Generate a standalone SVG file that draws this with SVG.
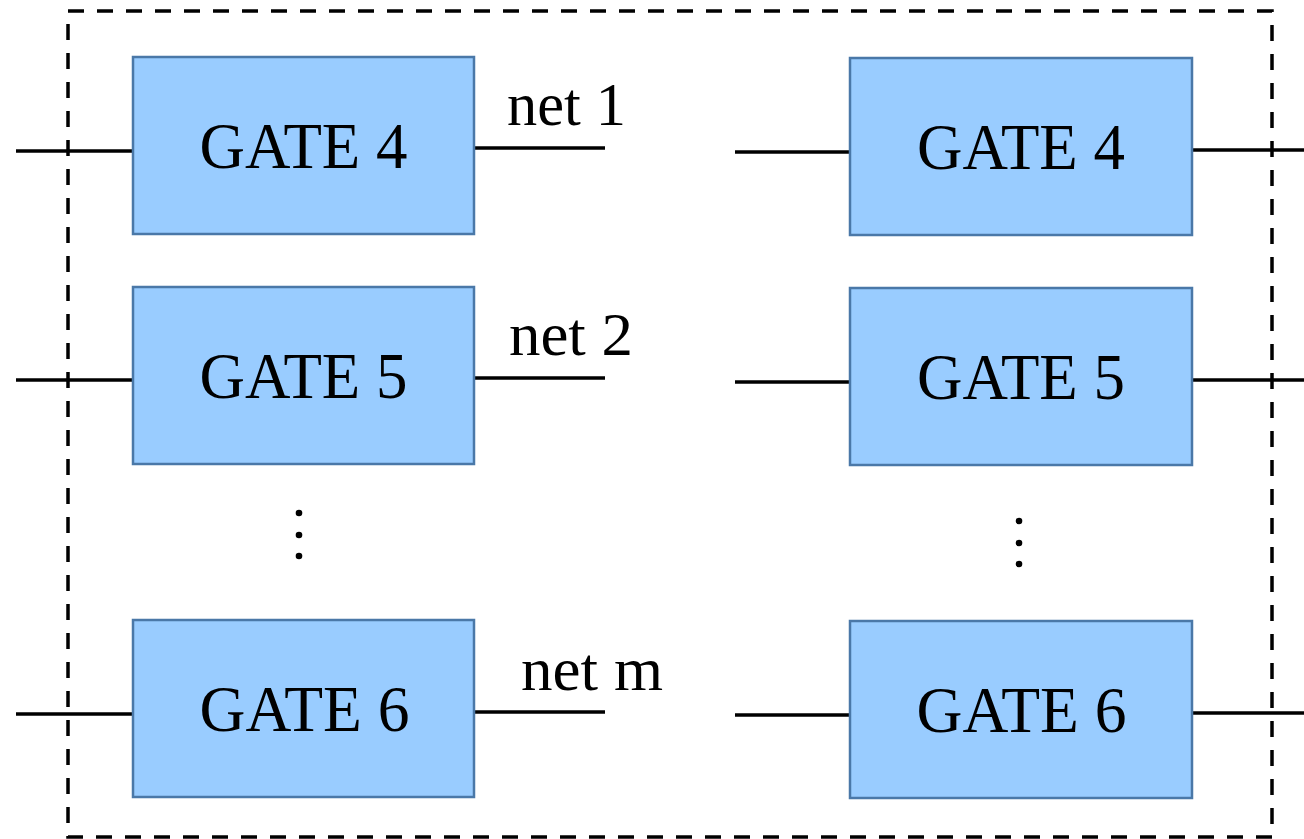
<svg xmlns="http://www.w3.org/2000/svg" width="1304" height="839" viewBox="0 0 1304 839">
  <style>
    .gate { fill: #99ccff; stroke: #4a78a8; stroke-width: 2.5; }
    .label { font-family: "Liberation Serif", "Times New Roman", serif; font-size: 65px; fill: #000; text-anchor: middle; }
    .net { font-family: "Liberation Serif", "Times New Roman", serif; font-size: 62px; fill: #000; }
    .wire { stroke: #000; stroke-width: 3.3; fill: none; }
    .frame { stroke: #000; stroke-width: 3.5; fill: none; stroke-dasharray: 16 13; }
    .dot { fill: #000; }
  </style>

  <!-- dashed enclosure -->
  <rect class="frame" x="68" y="11" width="1204" height="826"/>

  <!-- wires -->
  <g id="connectors">
    <line class="wire" x1="16" y1="151" x2="133" y2="151"/>
    <line class="wire" x1="474" y1="148" x2="605" y2="148"/>
    <line class="wire" x1="735" y1="152" x2="850" y2="152"/>
    <line class="wire" x1="1192" y1="150" x2="1304" y2="150"/>

    <line class="wire" x1="16" y1="380" x2="133" y2="380"/>
    <line class="wire" x1="474" y1="378" x2="605" y2="378"/>
    <line class="wire" x1="735" y1="382" x2="850" y2="382"/>
    <line class="wire" x1="1192" y1="380" x2="1304" y2="380"/>

    <line class="wire" x1="16" y1="714" x2="133" y2="714"/>
    <line class="wire" x1="474" y1="712" x2="605" y2="712"/>
    <line class="wire" x1="735" y1="715" x2="850" y2="715"/>
    <line class="wire" x1="1192" y1="713" x2="1304" y2="713"/>
  </g>

  <!-- net names -->
  <g id="net-labels">
    <text class="net" x="507" y="125" textLength="119" lengthAdjust="spacingAndGlyphs">net 1</text>
    <text class="net" x="509" y="355" textLength="124" lengthAdjust="spacingAndGlyphs">net 2</text>
    <text class="net" x="521" y="690" textLength="142" lengthAdjust="spacingAndGlyphs">net m</text>
  </g>

  <!-- left column -->
  <g id="gate4-left">
    <rect class="gate" x="133" y="57" width="341" height="177"/>
    <text class="label" x="303.5" y="168" textLength="208" lengthAdjust="spacingAndGlyphs">GATE 4</text>
  </g>
  <g id="gate5-left">
    <rect class="gate" x="133" y="287" width="341" height="177"/>
    <text class="label" x="303.5" y="398" textLength="208" lengthAdjust="spacingAndGlyphs">GATE 5</text>
  </g>
  <g id="ellipsis-left">
    <circle class="dot" cx="299" cy="513" r="3.3"/>
    <circle class="dot" cx="299" cy="535" r="3.3"/>
    <circle class="dot" cx="299" cy="556" r="3.3"/>
  </g>
  <g id="gate6-left">
    <rect class="gate" x="133" y="620" width="341" height="177"/>
    <text class="label" x="304.5" y="731" textLength="210" lengthAdjust="spacingAndGlyphs">GATE 6</text>
  </g>

  <!-- right column -->
  <g id="gate4-right">
    <rect class="gate" x="850" y="58" width="342" height="177"/>
    <text class="label" x="1021" y="169" textLength="208" lengthAdjust="spacingAndGlyphs">GATE 4</text>
  </g>
  <g id="gate5-right">
    <rect class="gate" x="850" y="288" width="342" height="177"/>
    <text class="label" x="1021" y="399" textLength="208" lengthAdjust="spacingAndGlyphs">GATE 5</text>
  </g>
  <g id="ellipsis-right">
    <circle class="dot" cx="1019" cy="521" r="3.3"/>
    <circle class="dot" cx="1019" cy="543" r="3.3"/>
    <circle class="dot" cx="1019" cy="564" r="3.3"/>
  </g>
  <g id="gate6-right">
    <rect class="gate" x="850" y="621" width="342" height="177"/>
    <text class="label" x="1021.5" y="732" textLength="210" lengthAdjust="spacingAndGlyphs">GATE 6</text>
  </g>
</svg>
